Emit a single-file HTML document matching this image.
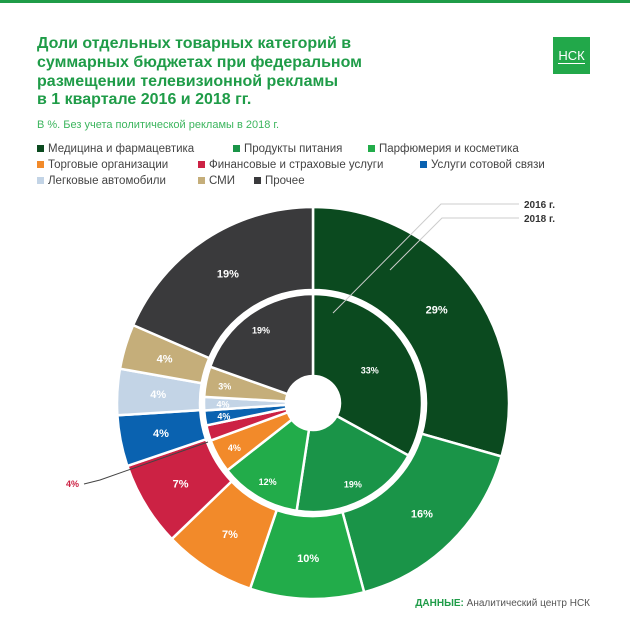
<!DOCTYPE html>
<html><head><meta charset="utf-8"><style>
body{margin:0;background:#fff;}
#wrap{position:relative;width:630px;height:630px;overflow:hidden;font-family:"Liberation Sans","DejaVu Sans",sans-serif;}
.t{position:absolute;white-space:nowrap;}
</style></head><body>
<div id="wrap">
<div style="position:absolute;left:0;top:0;width:630px;height:3px;background:#1f9c48"></div>
<div class="t" style="left:37px;top:35px;font-size:16px;line-height:18.8px;font-weight:bold;color:#1f9c48">Доли отдельных товарных категорий в<br>суммарных бюджетах при федеральном<br>размещении телевизионной рекламы<br>в 1 квартале 2016 и 2018 гг.</div>
<div style="position:absolute;left:553px;top:37px;width:37px;height:37px;background:#22a84a;color:#fff;font-size:13px;text-align:center;line-height:37px"><span style="border-bottom:1px solid #fff;line-height:14px;display:inline-block">НСК</span></div>
<div class="t" style="left:37px;top:119px;font-size:11px;color:#3cb55e">В %. Без учета политической рекламы в 2018 г.</div>
<div id="legend"></div>
<svg id="chart" width="630" height="630" style="position:absolute;left:0;top:0"></svg>
<div class="t" style="right:40px;top:598px;font-size:10px;color:#555"><b style="color:#1f9c48">ДАННЫЕ:</b> Аналитический центр НСК</div>
</div>
<script>
const categories=["Медицина и фармацевтика","Продукты питания","Парфюмерия и косметика","Торговые организации","Финансовые и страховые услуги","Услуги сотовой связи","Легковые автомобили","СМИ","Прочее"];
const colors=["#0b4a1f","#1a9448","#22ac4a","#f28a2a","#cc2244","#0a62b0","#c3d4e6","#c5ae7a","#3a3a3c"];
const values2016=[33,19.4,12,5,2.3,2.2,2,4.5,19.6];
const labels2016=["33%","19%","12%","4%","","4%","4%","3%","19%"];
const values2018=[29.4,16.4,9.4,7.6,7,4.2,3.8,3.7,18.5];
const labels2018=["29%","16%","10%","7%","7%","4%","4%","4%","19%"];
const NS="http://www.w3.org/2000/svg";
const svg=document.getElementById('chart');
const cx=313,cy=403;
function pt(r,a){const t=a*Math.PI/180;return [cx+r*Math.sin(t),cy-r*Math.cos(t)];}
function arc(r0,r1,a0,a1){const p0=pt(r1,a0),p1=pt(r1,a1),p2=pt(r0,a1),p3=pt(r0,a0);const l=(a1-a0)>180?1:0;
return `M${p0}A${r1},${r1} 0 ${l} 1 ${p1}L${p2}A${r0},${r0} 0 ${l} 0 ${p3}Z`;}
function ring(vals,labs,r0,r1,name,lr,fs){
 const tot=vals.reduce((a,b)=>a+b,0);let a=0;
 vals.forEach((v,i)=>{const a0=a,a1=a+v/tot*360;a=a1;
  const p=document.createElementNS(NS,'path');
  p.setAttribute('d',arc(r0,r1,a0,a1));p.setAttribute('fill',colors[i]);p.setAttribute('stroke','#fff');p.setAttribute('stroke-width','2.5');
  
  
  svg.appendChild(p);
  if(labs[i]){const r=(typeof lr==='function')?lr(i):lr;const q=pt(r,(a0+a1)/2);
   const t=document.createElementNS(NS,'text');t.setAttribute('x',q[0]);t.setAttribute('y',q[1]+4);
   t.setAttribute('text-anchor','middle');t.setAttribute('font-size',fs);t.setAttribute('font-weight','bold');
   t.setAttribute('fill','#fff');t.setAttribute('font-family','Liberation Sans, sans-serif');t.textContent=labs[i];
   
   
   svg.appendChild(t);}
 });
}
ring(values2018,labels2018,113,196,'outer-2018',155,11);
ring(values2016,labels2016,27,109,'inner-2016',i=>i===0?66:90,9);
const hole=document.createElementNS(NS,'circle');hole.setAttribute('cx',cx);hole.setAttribute('cy',cy);hole.setAttribute('r',27);hole.setAttribute('fill','#fff');


svg.appendChild(hole);
function line(pts,col,name){const l=document.createElementNS(NS,'polyline');l.setAttribute('points',pts);l.setAttribute('fill','none');l.setAttribute('stroke',col);l.setAttribute('stroke-width','1');


svg.appendChild(l);}
line('333,313 441,204 519,204','#ccc','leader-2016');
line('390,270 442,218 519,218','#ccc','leader-2018');
line('84,484 100,480 208,442','#444','leader-finance-2016');
function txt(x,y,s,col,name,fs){const t=document.createElementNS(NS,'text');t.setAttribute('x',x);t.setAttribute('y',y);t.setAttribute('font-size',fs);t.setAttribute('font-weight','bold');t.setAttribute('fill',col);t.setAttribute('font-family','Liberation Sans, sans-serif');t.textContent=s;


svg.appendChild(t);}
txt(524,208,'2016 г.','#333','label-2016',10);
txt(524,222,'2018 г.','#333','label-2018',10);
txt(66,487,'4%','#cc2244','finance-2016-label',9);
const leg=document.getElementById('legend');
const rows=[[0,1,2],[3,4,5],[6,7,8]];const xs=[[37,233,368],[37,198,420],[37,198,254]];
rows.forEach((r,ri)=>r.forEach((ci,k)=>{
 const d=document.createElement('div');d.className='t';
 
 
 d.style.left=xs[ri][k]+'px';d.style.top=(143+ri*16)+'px';d.style.fontSize='11.5px';d.style.color='#444';
 d.innerHTML=`<span style="display:inline-block;width:7px;height:7px;background:${colors[ci]};margin-right:4px"></span>${categories[ci]}`;
 leg.appendChild(d);
}));
</script>
</body></html>
